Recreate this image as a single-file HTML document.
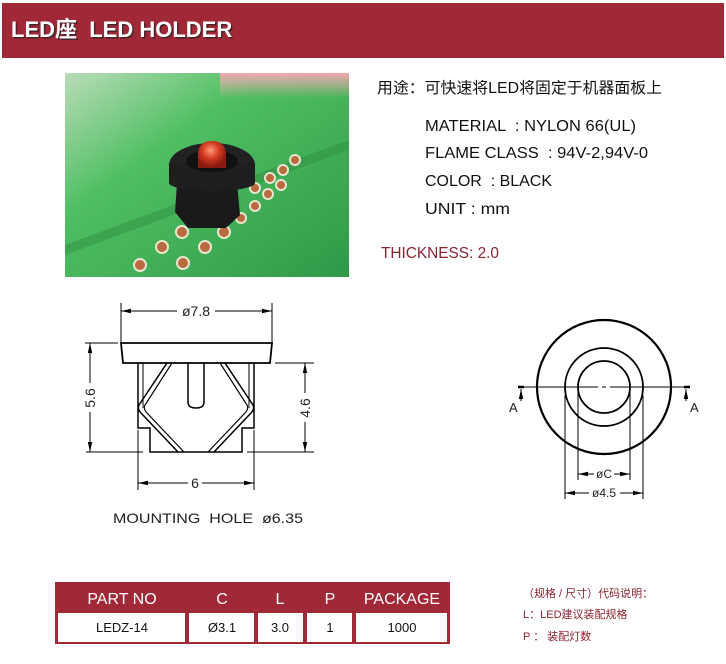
<!DOCTYPE html>
<html><head><meta charset="utf-8"><style>
html,body{margin:0;padding:0;background:#fff;width:726px;height:664px;overflow:hidden}
svg{display:block}
text{font-family:"Liberation Sans","Noto Sans CJK SC",sans-serif}
</style></head><body>
<svg width="726" height="664" viewBox="0 0 726 664" xmlns="http://www.w3.org/2000/svg">
<defs>
<linearGradient id="pcb" x1="0" y1="0" x2="1" y2="1">
<stop offset="0" stop-color="#b9dcb8"/><stop offset="0.35" stop-color="#4fbf62"/><stop offset="1" stop-color="#2e9a48"/>
</linearGradient>
<linearGradient id="pink" x1="0" y1="0" x2="0" y2="1"><stop offset="0" stop-color="#f0a8b0"/><stop offset="1" stop-color="#f0a8b0" stop-opacity="0"/></linearGradient>
<radialGradient id="led" cx="0.45" cy="0.35" r="0.6"><stop offset="0" stop-color="#ff9a7a"/><stop offset="0.5" stop-color="#d43a22"/><stop offset="1" stop-color="#8a1a10"/></radialGradient>
<marker id="ar" viewBox="0 0 10 6" refX="10" refY="3" markerWidth="10" markerHeight="6" orient="auto-start-reverse" markerUnits="userSpaceOnUse"><path d="M0,0.8 L10,3 L0,5.2z" fill="#000"/></marker>
</defs>
<!-- header -->
<rect x="2" y="3" width="722" height="55" fill="#a12837"/>
<text x="12.5" y="38.5" font-size="22" font-weight="bold" fill="#222" opacity="0.7" xml:space="preserve">LED座  LED HOLDER</text>
<text x="11" y="37" font-size="22" font-weight="bold" fill="#fff" xml:space="preserve">LED座  LED HOLDER</text>
<!-- photo -->
<rect x="65" y="73" width="284" height="204" fill="url(#pcb)"/>
<rect x="220" y="73" width="129" height="25" fill="url(#pink)"/>
<path d="M65 245 L349 140 L349 150 L65 255z" fill="#2f8f40" opacity="0.5"/>
<g fill="#b86b3e" stroke="#e6e6d0" stroke-width="2">
<circle cx="182" cy="232" r="6"/><circle cx="224" cy="232" r="6"/><circle cx="162" cy="247" r="6"/><circle cx="205" cy="247" r="6"/><circle cx="183" cy="263" r="6"/><circle cx="140" cy="265" r="6"/>
<circle cx="241" cy="218" r="5"/><circle cx="255" cy="206" r="5"/><circle cx="268" cy="194" r="5"/><circle cx="281" cy="185" r="5"/><circle cx="255" cy="188" r="5"/><circle cx="270" cy="178" r="5"/><circle cx="283" cy="170" r="5"/><circle cx="295" cy="160" r="5"/>
</g>
<path d="M177 183 L237 183 L240 215 L226 228 L188 228 L175 212z" fill="#1a1a1a"/>
<ellipse cx="212" cy="165" rx="43" ry="22" fill="#222"/>
<rect x="169" y="163" width="86" height="20" fill="#1e1e1e"/>
<ellipse cx="212" cy="183" rx="43" ry="8" fill="#1e1e1e"/>
<ellipse cx="212" cy="161" rx="26" ry="11" fill="#111"/>
<path d="M198 168 L198 155 Q198 141 212 141 Q226 141 226 155 L226 168z" fill="url(#led)"/>
<!-- spec text -->
<text x="377" y="93" font-size="15.5" fill="#111" textLength="285" lengthAdjust="spacingAndGlyphs">用途：可快速将LED将固定于机器面板上</text>
<g font-size="15.5" fill="#111">
<text x="425" y="131" textLength="211" lengthAdjust="spacingAndGlyphs" xml:space="preserve">MATERIAL  : NYLON 66(UL)</text>
<text x="425" y="158" textLength="223" lengthAdjust="spacingAndGlyphs" xml:space="preserve">FLAME CLASS  : 94V-2,94V-0</text>
<text x="425" y="186" textLength="127" lengthAdjust="spacingAndGlyphs" xml:space="preserve">COLOR  : BLACK</text>
<text x="425" y="214" textLength="85" lengthAdjust="spacingAndGlyphs">UNIT : mm</text>
</g>
<text x="381" y="258" font-size="15.5" fill="#8b2230" textLength="118" lengthAdjust="spacingAndGlyphs">THICKNESS: 2.0</text>
<!-- left drawing -->
<g fill="none" stroke="#000" stroke-width="1">
<line x1="121" y1="303" x2="121" y2="343"/><line x1="272" y1="303" x2="272" y2="343"/>
<line x1="121" y1="311" x2="177" y2="311" marker-start="url(#ar)"/><line x1="215" y1="311" x2="272" y2="311" marker-end="url(#ar)"/>
<path d="M121 343 L272 343 L270 363 L123 363z" stroke-width="1.8"/>
<path d="M138 363 L138 428 L150 428 L150 452 L242 452 L242 428 L254 428 L254 363" stroke-width="1.5"/>
<line x1="143" y1="363" x2="143" y2="408"/><line x1="249" y1="363" x2="249" y2="408"/>
<path d="M188 363 L188 402 Q188 408 196 408 Q204 408 204 402 L204 363" stroke-width="1.5"/>
<path d="M167 363 L139 405 Q137 409 141 413 L178 452" stroke-width="1.5"/>
<path d="M172 363 L145 405 Q143 409 147 413 L184 452" stroke-width="1.2"/>
<path d="M225 363 L253 405 Q255 409 251 413 L214 452" stroke-width="1.5"/>
<path d="M220 363 L247 405 Q249 409 245 413 L208 452" stroke-width="1.2"/>
<line x1="85" y1="343" x2="118" y2="343"/>
<line x1="86" y1="452" x2="143" y2="452"/><line x1="247" y1="452" x2="314" y2="452"/>
<line x1="275" y1="363" x2="314" y2="363"/>
<line x1="90" y1="343" x2="90" y2="383" marker-start="url(#ar)"/><line x1="90" y1="412" x2="90" y2="452" marker-end="url(#ar)"/>
<line x1="305" y1="363" x2="305" y2="393" marker-start="url(#ar)"/><line x1="305" y1="422" x2="305" y2="452" marker-end="url(#ar)"/>
<line x1="138" y1="430" x2="138" y2="490"/><line x1="254" y1="430" x2="254" y2="490"/>
<line x1="138" y1="483" x2="188" y2="483" marker-start="url(#ar)"/><line x1="202" y1="483" x2="254" y2="483" marker-end="url(#ar)"/>
</g>
<g font-size="14" fill="#222">
<text x="196" y="316" text-anchor="middle">ø7.8</text>
<text x="195" y="488" text-anchor="middle">6</text>
<text transform="translate(95,398) rotate(-90)" text-anchor="middle">5.6</text>
<text transform="translate(310,408) rotate(-90)" text-anchor="middle">4.6</text>
<text x="113" y="523" textLength="190" lengthAdjust="spacingAndGlyphs" xml:space="preserve">MOUNTING  HOLE  ø6.35</text>
</g>
<!-- right drawing -->
<g fill="none" stroke="#000">
<circle cx="604" cy="387" r="67" stroke-width="2.2"/>
<circle cx="604" cy="387" r="39" stroke-width="1.8"/>
<circle cx="604" cy="387" r="26" stroke-width="1.8"/>
<line x1="518" y1="387" x2="598" y2="387"/><line x1="602" y1="387" x2="606" y2="387"/><line x1="610" y1="387" x2="690" y2="387"/>
<line x1="518" y1="387" x2="524" y2="387" stroke-width="2.5"/><line x1="684" y1="387" x2="690" y2="387" stroke-width="2.5"/>
<line x1="521" y1="401" x2="521" y2="389" marker-end="url(#ar)"/>
<line x1="686" y1="401" x2="686" y2="389" marker-end="url(#ar)"/>
<line x1="578" y1="390" x2="578" y2="480"/><line x1="630" y1="390" x2="630" y2="480"/>
<line x1="565" y1="395" x2="565" y2="499"/><line x1="643" y1="395" x2="643" y2="499"/>
<line x1="578" y1="474" x2="594" y2="474" marker-start="url(#ar)"/><line x1="614" y1="474" x2="630" y2="474" marker-end="url(#ar)"/>
<line x1="565" y1="493" x2="589" y2="493" marker-start="url(#ar)"/><line x1="620" y1="493" x2="643" y2="493" marker-end="url(#ar)"/>
</g>
<g font-size="12" fill="#222">
<text x="604" y="478" text-anchor="middle">øC</text>
<text x="604" y="497" text-anchor="middle">ø4.5</text>
<text x="509" y="412" font-size="13">A</text>
<text x="690" y="412" font-size="13">A</text>
</g>
<!-- table -->
<rect x="55" y="582" width="395" height="62" fill="#a12837"/>
<g fill="#fff">
<rect x="58" y="613" width="127" height="29"/>
<rect x="189" y="613" width="65" height="29"/>
<rect x="258" y="613" width="45" height="29"/>
<rect x="307" y="613" width="45" height="29"/>
<rect x="356" y="613" width="91" height="29"/>
</g>
<g font-size="16" fill="#fff" text-anchor="middle">
<text x="122" y="604">PART NO</text>
<text x="222" y="604">C</text>
<text x="280" y="604">L</text>
<text x="330" y="604">P</text>
<text x="402" y="604">PACKAGE</text>
</g>
<g font-size="13" fill="#111" text-anchor="middle">
<text x="122" y="632">LEDZ-14</text>
<text x="222" y="632">Ø3.1</text>
<text x="280" y="632">3.0</text>
<text x="330" y="632">1</text>
<text x="402" y="632">1000</text>
</g>
<g font-size="11" fill="#8b2230">
<text x="523" y="597" xml:space="preserve">（规格 / 尺寸）代码说明：</text>
<text x="523" y="618">L：LED建议装配规格</text>
<text x="523" y="640" xml:space="preserve">P ： 装配灯数</text>
</g>
</svg>
</body></html>
